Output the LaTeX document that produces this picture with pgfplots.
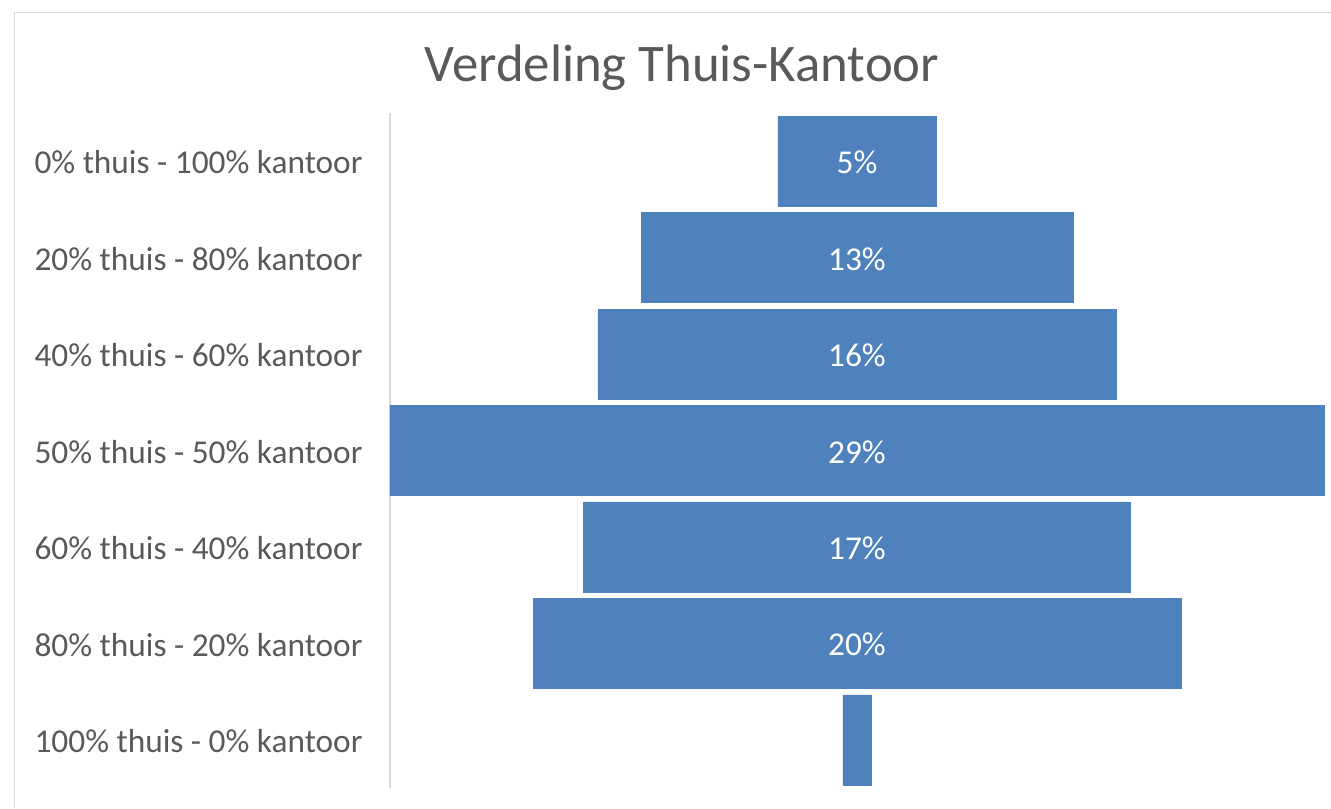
\documentclass[border=0pt]{standalone}
\usepackage{pgfplots}
\usepackage{pgfplotstable}
\pgfplotsset{compat=1.18}
\usepackage{fontspec}
\setmainfont{Carlito}
\definecolor{barblue}{HTML}{4F81BD}
\definecolor{txtgray}{HTML}{595959}
\definecolor{lgray}{HTML}{D9D9D9}
\pgfplotstableread{
y v
0 4.91
1 13.41
2 16.09
3 29.00
4 16.98
5 20.11
6 0.87
}\data
\begin{document}
\begin{tikzpicture}
\useasboundingbox (0,0) rectangle (998.25pt,606pt);
\draw[lgray, line width=0.9pt] (10.8pt,0) -- (10.8pt,596.5pt) -- (998.25pt,596.5pt);
\node[anchor=base, text=txtgray, font=\fontsize{39.6}{48}\selectfont, inner sep=0pt] at (511.5pt,544.5pt) {Verdeling Thuis-Kantoor};
\begin{axis}[
  at={(292.5pt,15pt)}, anchor=south west,
  scale only axis, width=700.5pt, height=506.25pt,
  xmin=-14.5, xmax=14.5, ymin=-0.5, ymax=6.5,
  y dir=reverse, clip=false,
  axis x line=none, axis y line=left,
  axis line style={lgray, line width=1.8pt, -},
  /pgf/number format/assume math mode=true,
  ytick={0,...,6},
  yticklabels={0\% thuis - 100\% kantoor, 20\% thuis - 80\% kantoor, 40\% thuis - 60\% kantoor, 50\% thuis - 50\% kantoor, 60\% thuis - 40\% kantoor, 80\% thuis - 20\% kantoor, 100\% thuis - 0\% kantoor},
  major tick length=0pt, ytick style={draw=none},
  yticklabel style={font=\fontsize{25}{30}\selectfont, text=txtgray, inner sep=0pt, anchor=east, xshift=-20.5pt, yshift=-1pt},
]
\addplot[xbar, bar width=67.5pt, bar shift=0pt, fill=barblue, draw=barblue, line width=0.3pt] table[x expr=\thisrow{v}/2, y=y] {\data};
\addplot[xbar, bar width=67.5pt, bar shift=0pt, fill=barblue, draw=barblue, line width=0.3pt] table[x expr=-\thisrow{v}/2, y=y] {\data};
\addplot[only marks, mark=none, skip coords between index={6}{7}, point meta=\thisrow{v},
  nodes near coords={\pgfmathprintnumber[fixed,precision=0,assume math mode=true]{\pgfplotspointmeta}\%},
  nodes near coords style={anchor=center, text=white, font=\fontsize{25}{30}\selectfont, inner sep=0pt, yshift=-1pt}]
  table[x expr=0, y=y] {\data};
\end{axis}
\end{tikzpicture}
\end{document}
